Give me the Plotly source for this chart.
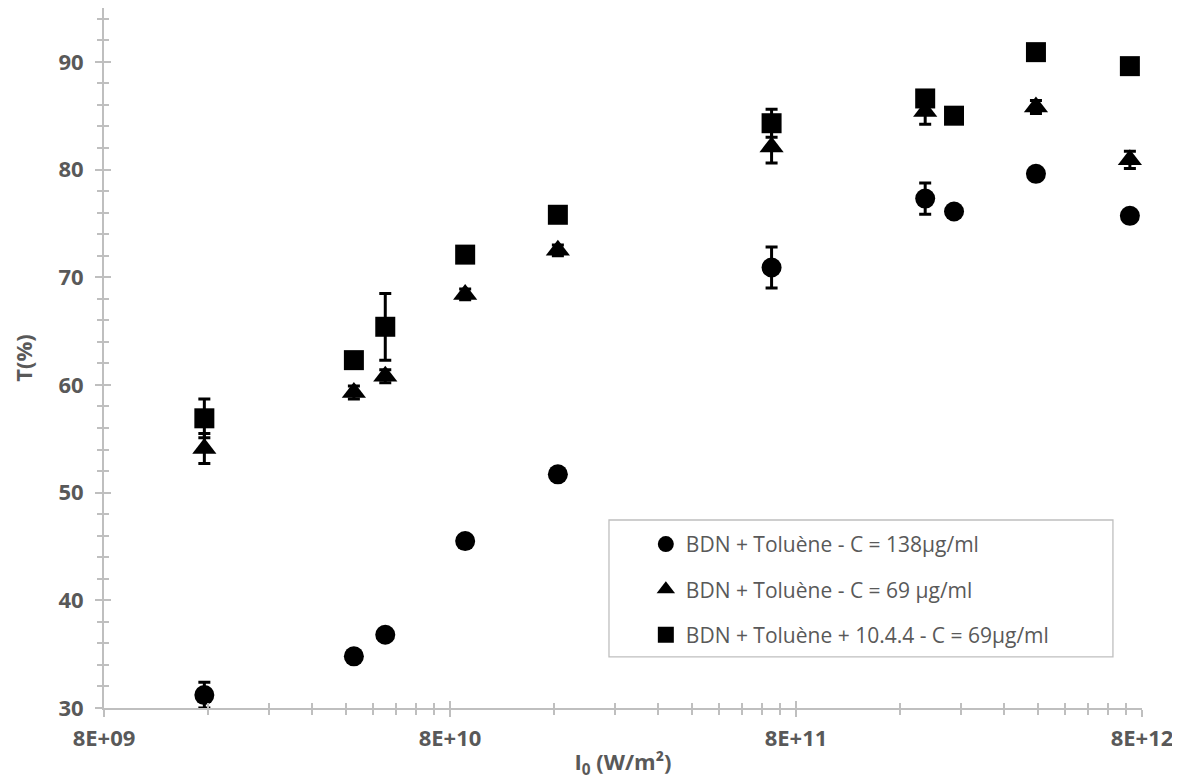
import plotly.graph_objects as go
import math

# ---- data ----
intensity = [1.56e10, 4.22e10, 5.2e10, 8.85e10, 1.64e11, 6.8e11, 1.89e12, 2.29e12, 3.95e12, 7.38e12]

t_138 = [31.2, 34.8, 36.8, 45.5, 51.7, 70.9, 77.3, 76.1, 79.6, 75.7]
err_138 = [1.2, 0, 0, 0, 0, 1.9, 1.45, 0, 0, 0]

t_69 = [54.1, 59.3, 60.8, 68.4, 72.5, 82.1, 85.4, None, 85.8, 80.9]
err_69 = [1.4, 0.6, 0.6, 0.5, 0.5, 1.5, 1.2, 0, 0.6, 0.8]

t_1044 = [56.9, 62.3, 65.4, 72.1, 75.8, 84.3, 86.6, 85.0, 90.9, 89.6]
err_1044 = [1.8, 0, 3.1, 0, 0, 1.3, 0, 0, 0, 0]

names = ["BDN + Toluène - C = 138µg/ml",
         "BDN + Toluène - C = 69 µg/ml",
         "BDN + Toluène + 10.4.4 - C = 69µg/ml"]

x_tickvals = [8e9, 8e10, 8e11, 8e12]
x_ticktext = ["8E+09", "8E+10", "8E+11", "8E+12"]
y_tickvals = [30, 40, 50, 60, 70, 80, 90]

# ---- style ----
GREY = "#BFBFBF"
TXT = "#595959"
FONT = "Open Sans"

x_minor = [k * v for v in x_tickvals[:-1] for k in range(2, 10)]

fig = go.Figure()
series = [(t_138, err_138, "circle", 20, names[0]),
          (t_69, err_69, "triangle-up", 21, names[1]),
          (t_1044, err_1044, "square", 20, names[2])]
for i, (vals, errs, sym, sz, nm) in enumerate(series):
    fig.add_trace(go.Scatter(
        x=intensity, y=vals, mode="markers", name=nm,
        legendgroup=f"g{i}",
        marker=dict(symbol=sym, size=sz, color="black", line=dict(width=0)),
        error_y=dict(type="data", array=errs, visible=True, color="black",
                     thickness=3, width=6),
    ))

axis_common = dict(showgrid=False, zeroline=False, tickcolor=GREY, tickwidth=2,
                   automargin=False)
tick_font = dict(size=22, weight="bold", color=TXT, family=FONT)

fig.update_layout(
    width=1172, height=772,
    margin=dict(l=96, r=38, t=0, b=72, autoexpand=False),
    paper_bgcolor="white", plot_bgcolor="white",
    font=dict(family=FONT, color=TXT),
    xaxis=dict(type="log", range=[math.log10(8e9), math.log10(8e12)],
               tickvals=x_tickvals, ticktext=x_ticktext,
               ticks="outside", ticklen=7, ticklabelstandoff=3,
               ticklabeloverflow="allow",
               tickfont=tick_font,
               minor=dict(tickvals=x_minor, ticks="outside", ticklen=5,
                          tickcolor=GREY, tickwidth=1.5),
               title=dict(text="I<sub>0</sub> (W/m²)", standoff=19,
                          font=tick_font),
               linecolor=GREY, linewidth=2, **axis_common),
    yaxis=dict(range=[30, 95], tickvals=y_tickvals,
               ticks="outside", ticklen=7, ticklabelstandoff=7,
               ticklabeloverflow="allow",
               tickfont=tick_font,
               minor=dict(dtick=2, tick0=30, ticks="outside", ticklen=5,
                          tickcolor=GREY, tickwidth=1.5),
               title=dict(text="T(%)", standoff=31, font=tick_font),
               linecolor=GREY, linewidth=2, **axis_common),
    xaxis2=dict(type="log", overlaying="x", matches="x", anchor="y", side="bottom",
                tickvals=x_tickvals, showticklabels=False, ticks="inside", ticklen=7,
                minor=dict(tickvals=x_minor, ticks="inside", ticklen=5,
                           tickcolor=GREY, tickwidth=1.5),
                showline=False, **axis_common),
    yaxis2=dict(overlaying="y", matches="y", anchor="x", side="left",
                tickvals=y_tickvals, showticklabels=False, ticks="inside", ticklen=7,
                minor=dict(dtick=2, tick0=30, ticks="inside", ticklen=5,
                           tickcolor=GREY, tickwidth=1.5),
                showline=False, **axis_common),
    showlegend=True,
    legend=dict(x=0.522, y=0.263, xanchor="left", yanchor="top",
                bgcolor="rgba(0,0,0,0)", borderwidth=0,
                traceorder="grouped", tracegroupgap=15,
                font=dict(size=21, color=TXT, family=FONT)),
    shapes=[dict(type="rect", xref="paper", yref="paper",
                 x0=0.4865, x1=0.972, y0=0.0729, y1=0.2686,
                 line=dict(color=GREY, width=1.3), fillcolor="white", layer="below")],
)
# invisible helper trace that activates the overlay axes (crossing tick marks)
fig.add_trace(go.Scatter(x=[intensity[0]], y=[t_138[0]], xaxis="x2", yaxis="y2",
                         mode="markers", marker=dict(opacity=0), showlegend=False,
                         hoverinfo="skip"))

fig.write_html("out.html")
